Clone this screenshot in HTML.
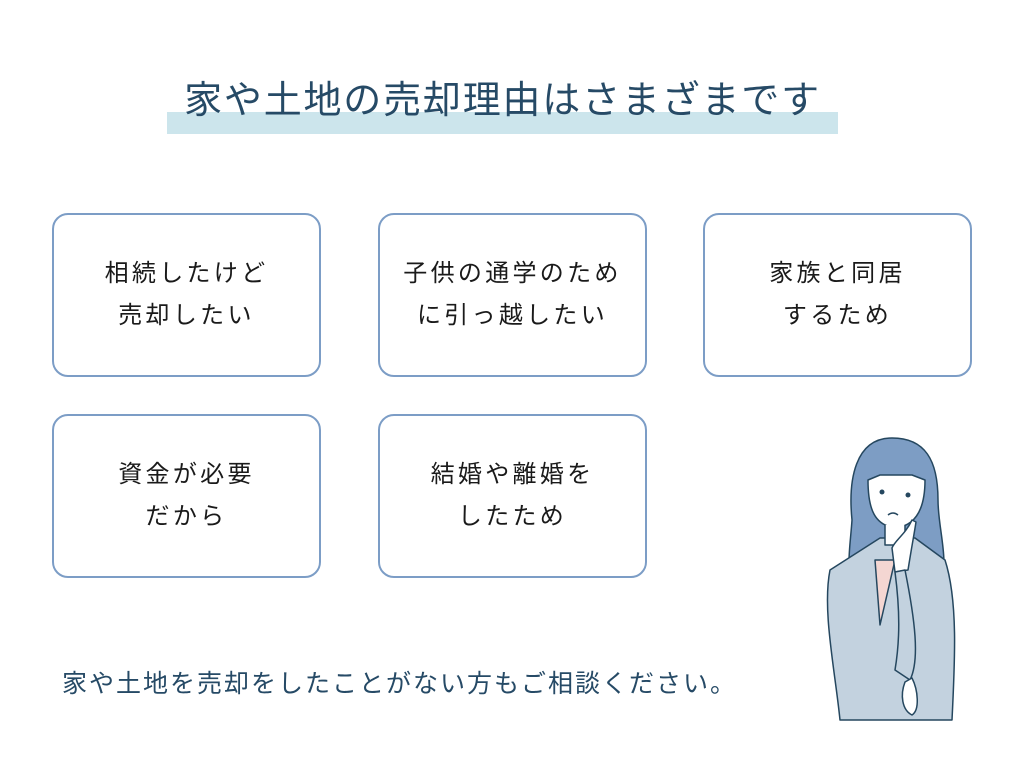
<!DOCTYPE html>
<html><head><meta charset="utf-8"><style>
body{margin:0;width:1024px;height:768px;background:#fff;position:relative;overflow:hidden;font-family:"Liberation Sans","Noto Sans CJK JP",sans-serif;}
.bar{position:absolute;left:167px;top:112px;width:671px;height:22px;background:#cce5ec;}
.title{position:absolute;left:167px;width:671px;top:76px;text-align:center;font-size:38px;color:#264a66;line-height:50px;letter-spacing:1.8px;white-space:nowrap;}
.box{position:absolute;width:269px;height:164px;border:2px solid #7c9dc6;border-radius:16px;box-sizing:border-box;display:flex;align-items:center;justify-content:center;text-align:center;font-size:24px;line-height:42px;letter-spacing:3.3px;color:#1a1a1a;}
.foot{position:absolute;left:62px;top:664px;font-size:25px;color:#264a66;letter-spacing:2px;white-space:nowrap;line-height:40px;}
</style></head><body>
<div class="bar"></div>
<div class="title">家や土地の売却理由はさまざまです</div>
<div class="box" style="left:52px;top:213px">相続したけど<br>売却したい</div>
<div class="box" style="left:378px;top:213px">子供の通学のため<br>に引っ越したい</div>
<div class="box" style="left:703px;top:213px">家族と同居<br>するため</div>
<div class="box" style="left:52px;top:414px">資金が必要<br>だから</div>
<div class="box" style="left:378px;top:414px">結婚や離婚を<br>したため</div>
<div class="foot">家や土地を売却をしたことがない方もご相談ください。</div>
<svg style="position:absolute;left:800px;top:420px" width="180" height="310" viewBox="0 0 180 310">
<g stroke="#25475f" stroke-width="1.5" stroke-linejoin="round">
<path d="M92 18 C55 18 48 60 52 100 C50 130 45 150 55 170 L140 170 C150 140 138 110 138 80 C138 40 125 18 92 18Z" fill="#7d9dc4"/>
<path d="M30 150 L80 118 L115 118 L145 140 C158 180 155 240 152 300 L40 300 C35 250 22 190 30 150Z" fill="#c3d2df"/>
<path d="M75 140 L80 205 L95 140Z" fill="#f4d6d2"/>
<path d="M68 60 C68 90 75 105 95 108 C115 106 125 90 125 60 L112 55 L80 55Z" fill="#fff"/>
<path d="M85 105 L85 125 L105 125 L105 105" fill="#fff"/>
<path d="M92 128 C95 120 105 115 112 100 L116 102 C114 115 112 125 108 150 L95 152Z" fill="#fff"/>
<path d="M105 150 C115 200 120 240 110 260 L95 250 C100 220 100 190 95 152Z" fill="#c3d2df"/>
<path d="M105 262 C100 275 102 290 112 295 C120 290 118 270 112 258Z" fill="#fff"/>
</g>
<circle cx="82" cy="72" r="2.5" fill="#25475f"/><circle cx="108" cy="75" r="2.5" fill="#25475f"/>
<path d="M88 95 q5 -4 10 0" stroke="#25475f" stroke-width="1.5" fill="none"/>
</svg>
</body></html>
